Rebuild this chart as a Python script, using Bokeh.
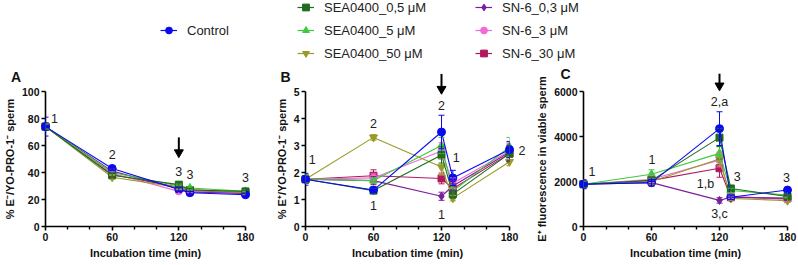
from bokeh.plotting import figure
from bokeh.models import (Range1d, FixedTicker, Legend, LegendItem, Whisker, TeeHead,
                          ColumnDataSource)
from bokeh.layouts import column, row
from bokeh.embed import file_html
from bokeh.resources import INLINE
from bokeh.core.properties import value

# ---------------- data ----------------
times = [0, 60, 120, 130, 180]
x_ticks = [0, 60, 120, 180]
x_minor = [20, 40, 80, 100, 140, 160]

series_names = ["Control", "SEA0400_0,5 μM", "SEA0400_5 μM", "SEA0400_50 μM",
                "SN-6_0,3 μM", "SN-6_3 μM", "SN-6_30 μM"]

# Panel A: % E-/YO-PRO-1- sperm
a_control = [74, 43, 27.5, 25, 23.5]
a_control_err = [7, 1.5, 1.5, 1.0, 1.0]
a_sea05 = [74, 38, 31, 27, 26]
a_sea05_err = [2, 1.5, 1.5, 1.0, 1.0]
a_sea5 = [74, 40, 30, 28.5, 26]
a_sea5_err = [2, 1.5, 1.5, 1.0, 1.0]
a_sea50 = [74, 36.5, 29, 27.5, 25]
a_sea50_err = [2, 1.5, 1.5, 1.0, 1.0]
a_sn03 = [74, 41, 28, 25.5, 24.5]
a_sn03_err = [2, 1.5, 1.5, 1.0, 1.0]
a_sn3 = [74, 39.5, 26, 26, 24.5]
a_sn3_err = [2, 1.5, 1.5, 1.0, 1.0]
a_sn30 = [74, 38.5, 29, 26.5, 25]
a_sn30_err = [2, 1.5, 1.5, 1.0, 1.0]
a_yticks = [0, 20, 40, 60, 80, 100]
a_labels = ["1", "2", "3", "3", "3"]
a_label_x = [8, 60, 120, 130, 180]
a_label_y = [80, 53.5, 40.5, 38.7, 36.3]
a_arrow = [66, 51]

# Panel B: % E+/YO-PRO-1- sperm
b_control = [1.75, 1.35, 3.5, 1.8, 2.85]
b_control_err = [0.22, 0.1, 0.62, 0.28, 0.3]
b_sea05 = [1.75, 1.33, 2.65, 1.2, 2.7]
b_sea05_err = [0.15, 0.1, 0.3, 0.15, 0.3]
b_sea5 = [1.75, 1.7, 3.0, 1.3, 2.95]
b_sea5_err = [0.15, 0.1, 0.3, 0.15, 0.35]
b_sea50 = [1.75, 3.3, 2.2, 1.05, 2.4]
b_sea50_err = [0.15, 0.1, 0.3, 0.1, 0.15]
b_sn03 = [1.75, 1.7, 1.12, 1.5, 2.75]
b_sn03_err = [0.15, 0.15, 0.15, 0.2, 0.3]
b_sn3 = [1.75, 1.8, 2.8, 1.6, 2.8]
b_sn3_err = [0.15, 0.15, 0.3, 0.2, 0.3]
b_sn30 = [1.75, 1.88, 1.78, 1.4, 2.7]
b_sn30_err = [0.15, 0.22, 0.2, 0.2, 0.3]
b_yticks = [0, 1, 2, 3, 4, 5]
b_labels = ["1", "2", "1", "2", "1", "1", "2"]
b_label_x = [6, 60, 60, 120, 133, 120, 191]
b_label_y = [2.5, 3.83, 0.77, 4.47, 2.56, 0.44, 2.8]
b_arrow = [5.65, 4.9]

# Panel C: E+ fluorescence in viable sperm
c_control = [1880, 1950, 4350, 1300, 1620]
c_control_err = [200, 150, 750, 100, 100]
c_sea05 = [1880, 2050, 3950, 1690, 1330]
c_sea05_err = [150, 150, 400, 100, 100]
c_sea5 = [1880, 2320, 3250, 1600, 1400]
c_sea5_err = [150, 200, 300, 100, 100]
c_sea50 = [1880, 2000, 3000, 1250, 1150]
c_sea50_err = [150, 150, 300, 100, 100]
c_sn03 = [1880, 1950, 1160, 1300, 1250]
c_sn03_err = [150, 100, 120, 100, 100]
c_sn3 = [1880, 2100, 2950, 1350, 1200]
c_sn3_err = [150, 150, 300, 100, 100]
c_sn30 = [1880, 2050, 2590, 1300, 1250]
c_sn30_err = [150, 150, 400, 100, 100]
c_yticks = [0, 2000, 4000, 6000]
c_labels = ["1", "1", "2,a", "1,b", "3,c", "3", "3"]
c_label_x = [7.4, 60.5, 120, 107.6, 120, 135.6, 179]
c_label_y = [2465, 2987, 5555, 1872, 535, 2240, 2168]
c_arrow = [6790, 6030]

# ---------------- styles ----------------
colors = ["#0A0AF0", "#1E6B1E", "#3CCB3C", "#9A9A2A", "#7A1F9C", "#F06CD8", "#B0185E"]
markers = ["circle", "square", "triangle", "inverted_triangle", "diamond", "circle", "square"]
sizes = [8, 7, 8, 8, 8, 7, 7]
FONT = "Liberation Sans"
draw_order = [6, 5, 4, 3, 2, 1, 0]
FRAME_H = 135
HEAD = 9


def make_panel(width, left, right, y_top, yticks, ylabel, vals, errs,
               letter, letter_x, letter_y, arrow, labels, lx, ly):
    p = figure(width=width, height=199, x_range=Range1d(0, 180), y_range=Range1d(0, y_top),
               toolbar_location=None, output_backend="svg",
               min_border_left=left, min_border_right=right,
               min_border_top=25, min_border_bottom=39)
    p.outline_line_color = None
    p.grid.visible = False
    p.xaxis.ticker = FixedTicker(ticks=x_ticks, minor_ticks=x_minor)
    p.yaxis.ticker = FixedTicker(ticks=yticks, minor_ticks=[])
    p.axis.axis_line_width = 1.6
    p.axis.major_tick_line_width = 1.6
    p.axis.minor_tick_line_width = 1.4
    p.axis.major_tick_out = 4
    p.axis.major_tick_in = 0
    p.axis.minor_tick_out = 3
    p.axis.minor_tick_in = 0
    p.yaxis.minor_tick_line_color = None
    p.axis.major_label_text_font = FONT
    p.axis.major_label_text_font_size = "10.5px"
    p.axis.major_label_text_font_style = "bold"
    p.axis.major_label_text_color = "#111111"
    p.axis.major_label_standoff = 2
    p.axis.axis_label_text_font = FONT
    p.axis.axis_label_text_font_size = "11px"
    p.axis.axis_label_text_font_style = "bold"
    p.axis.axis_label_text_color = "#111111"
    p.axis.axis_label_standoff = 3
    p.xaxis.axis_label = "Incubation time (min)"
    p.yaxis.axis_label = ylabel

    for i in draw_order:
        col = colors[i]
        v = vals[i]
        e = errs[i]
        src = ColumnDataSource(dict(x=times, y=v,
                                    upper=[a + b for a, b in zip(v, e)],
                                    lower=[a - b for a, b in zip(v, e)]))
        p.line("x", "y", source=src, line_color=col, line_width=1.1, level="overlay")
        w = Whisker(source=src, base="x", upper="upper", lower="lower",
                    line_color=col, line_width=1, level="overlay",
                    upper_head=TeeHead(size=6, line_color=col, line_width=1),
                    lower_head=TeeHead(size=6, line_color=col, line_width=1))
        p.add_layout(w)
        p.scatter("x", "y", source=src, marker=markers[i], size=sizes[i],
                  fill_color=col, line_color=col, level="overlay")

    p.text(x=lx, y=ly, text=labels, text_font=value(FONT), text_font_size="12.5px",
           text_align="center", text_baseline="middle", text_color="#222222",
           level="overlay")

    # arrow at the treatment time: shaft + triangular head whose tip sits at arrow[1]
    unit = y_top / FRAME_H  # data units per pixel
    head_c = arrow[1] + HEAD * 0.577 * unit
    p.segment(x0=[120], y0=[arrow[0]], x1=[120], y1=[head_c], line_color="black",
              line_width=2, level="overlay")
    p.scatter(x=[120], y=[head_c], marker="inverted_triangle", size=HEAD,
              fill_color="black", line_color="black", level="overlay")

    p.text(x=[letter_x], y=[letter_y], text=[letter], text_font=value(FONT),
           text_font_size="14px", text_font_style="bold", text_align="left",
           text_baseline="middle", text_color="#111111", level="overlay")
    return p


pA = make_panel(263, 42, 18, 100, a_yticks, "% E⁻/YO-PRO-1⁻ sperm",
                [a_control, a_sea05, a_sea5, a_sea50, a_sn03, a_sn3, a_sn30],
                [a_control_err, a_sea05_err, a_sea5_err, a_sea50_err, a_sn03_err, a_sn3_err, a_sn30_err],
                "A", -31, 110.4, a_arrow, a_labels, a_label_x, a_label_y)
pB = make_panel(266, 42, 20, 5, b_yticks, "% E⁺/YO-PRO-1⁻ sperm",
                [b_control, b_sea05, b_sea5, b_sea50, b_sn03, b_sn3, b_sn30],
                [b_control_err, b_sea05_err, b_sea5_err, b_sea50_err, b_sn03_err, b_sn3_err, b_sn30_err],
                "B", -22, 5.52, b_arrow, b_labels, b_label_x, b_label_y)
pC = make_panel(269, 54, 11, 6000, c_yticks, "E⁺ fluorescence in viable sperm",
                [c_control, c_sea05, c_sea5, c_sea50, c_sn03, c_sn3, c_sn30],
                [c_control_err, c_sea05_err, c_sea5_err, c_sea50_err, c_sn03_err, c_sn3_err, c_sn30_err],
                "C", -20.4, 6800, c_arrow, c_labels, c_label_x, c_label_y)

# ---------------- legend strip ----------------
lf = figure(width=798, height=66, x_range=Range1d(0, 1), y_range=Range1d(0, 1),
            x_axis_type=None, y_axis_type=None, toolbar_location=None,
            output_backend="svg", min_border=0)
lf.outline_line_color = None
lf.grid.visible = False

# legend proxies reuse the panel A series (they fall outside this strip's ranges)
a_series = [a_control, a_sea05, a_sea5, a_sea50, a_sn03, a_sn3, a_sn30]
items = []
for i, name in enumerate(series_names):
    lr = lf.line(times, a_series[i], line_color=colors[i], line_width=1.2)
    mr = lf.scatter(times, a_series[i], marker=markers[i], fill_color=colors[i],
                    line_color=colors[i])
    items.append(LegendItem(label=name, renderers=[lr, mr]))


def make_legend(its, loc):
    lg = Legend(items=its, location=loc, orientation="vertical",
                border_line_color=None, background_fill_alpha=0,
                padding=0, margin=0, spacing=5, glyph_width=17, glyph_height=18,
                label_height=18, label_standoff=10, label_text_font=FONT,
                label_text_font_size="13px", label_text_color="#222222")
    lf.add_layout(lg)


make_legend(items[0:1], (160, 27))
make_legend(items[1:4], (297, 4))
make_legend(items[4:7], (475, 4))

layout = column(lf, row(pA, pB, pC))
open("out.html", "w").write(file_html(layout, INLINE))
